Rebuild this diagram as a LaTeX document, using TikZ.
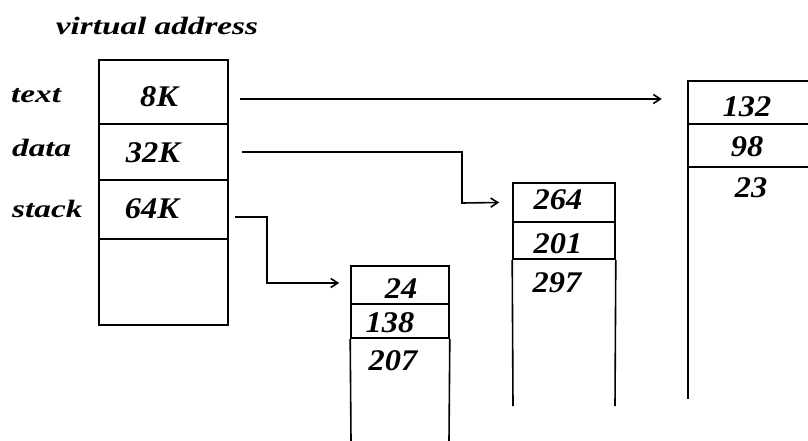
\documentclass[tikz,border=0pt]{standalone}
\usepackage{fontspec}
\setmainfont{Liberation Serif}
\newfontfamily\widefont[FakeStretch=1.33]{Liberation Serif}
\newfontfamily\numfont[FakeStretch=1.08]{Liberation Serif}
\usetikzlibrary{arrows.meta}
\begin{document}
\begin{tikzpicture}[x=1pt,y=-1pt,
  lw/.style={line width=1.6pt},
  cell/.style={lw,draw,inner sep=0pt},
  ocell/.style={inner sep=0pt},
  lbl/.style={inner sep=0pt,anchor=base west,font=\widefont\fontsize{25}{28}\selectfont\bfseries\itshape},
  num/.style={inner sep=0pt,anchor=base,font=\numfont\fontsize{30}{33}\selectfont\bfseries\itshape},
  conn/.style={lw,-{Straight Barb[length=7pt,width=9pt]}}]
\useasboundingbox (0,0) rectangle (808,441);
% title
\node[inner sep=0pt,anchor=base,font=\widefont\fontsize{25}{28}\selectfont\bfseries\itshape] (title) at (157,35) {virtual address};
% virtual address box
\node[cell,minimum width=129pt,minimum height=64pt] (vtext) at (163.5,92) {};
\node[cell,minimum width=129pt,minimum height=56pt] (vdata) at (163.5,152) {};
\node[cell,minimum width=129pt,minimum height=59pt] (vstack) at (163.5,209.5) {};
\node[cell,minimum width=129pt,minimum height=86pt] (vfree) at (163.5,282) {};
\node[num] (n8k) at (159,107) {8K};
\node[num] (n32k) at (153,162) {32K};
\node[num] (n64k) at (152,218) {64K};
\node[lbl] (ltext) at (11,103) {text};
\node[lbl] (ldata) at (12,157) {data};
\node[lbl] (lstack) at (12,217) {stack};
% box 3 (stack)
\node[cell,minimum width=98pt,minimum height=38pt] (c24) at (400,285) {};
\node[cell,minimum width=98pt,minimum height=34pt] (c138) at (400,321) {};
\coordinate (c3bl) at (351,441);
\coordinate (c3br) at (449,441);
\draw[lw] (c138.south west) -- (c3bl) (c138.south east) -- (c3br);
\node[num] (t24) at (401,298) {24};
\node[num] (t138) at (390,332) {138};
\node[num] (t207) at (393,370) {207};
% box 2 (data)
\node[cell,minimum width=102pt,minimum height=39pt] (c264) at (564,202.5) {};
\node[cell,minimum width=102pt,minimum height=37pt] (c201) at (564,240.5) {};
\coordinate (c2bl) at (513,406);
\coordinate (c2br) at (615,406);
\draw[lw] (c201.south west) -- (c2bl) (c201.south east) -- (c2br);
\node[num] (t264) at (558,209) {264};
\node[num] (t201) at (558,253) {201};
\node[num] (t297) at (557,292) {297};
% box 1 (text)
\coordinate (r1) at (688,81);
\coordinate (r2) at (688,124);
\coordinate (r3) at (688,167);
\coordinate (r4) at (688,399);
\coordinate (e1) at (808,81);
\coordinate (e2) at (808,124);
\coordinate (e3) at (808,167);
\draw[lw] (e1) -- (r1) -- (r4) (r2) -- (e2) (r3) -- (e3);
\node[ocell,minimum width=118pt,minimum height=43pt] (c132) at (747,102.5) {};
\node[num] (t132) at (747,117) {132};
\node[num] (t98) at (747,157) {98};
\node[num] (t23) at (751,197) {23};
% connectors
\coordinate (s1) at (240,99);
\coordinate (s2) at (242,152);
\coordinate (s3) at (235,217);
\draw[conn] (s1) -- ([xshift=-26pt]c132.west|-s1);
\draw[conn] (s2) -- (462,152) -- (462,203) -- ([xshift=-13pt]c264.west);
\draw[conn] (s3) -- (267,217) -- (267,283) -- ([xshift=-11pt]c24.west|-0,283);
\end{tikzpicture}
\end{document}
